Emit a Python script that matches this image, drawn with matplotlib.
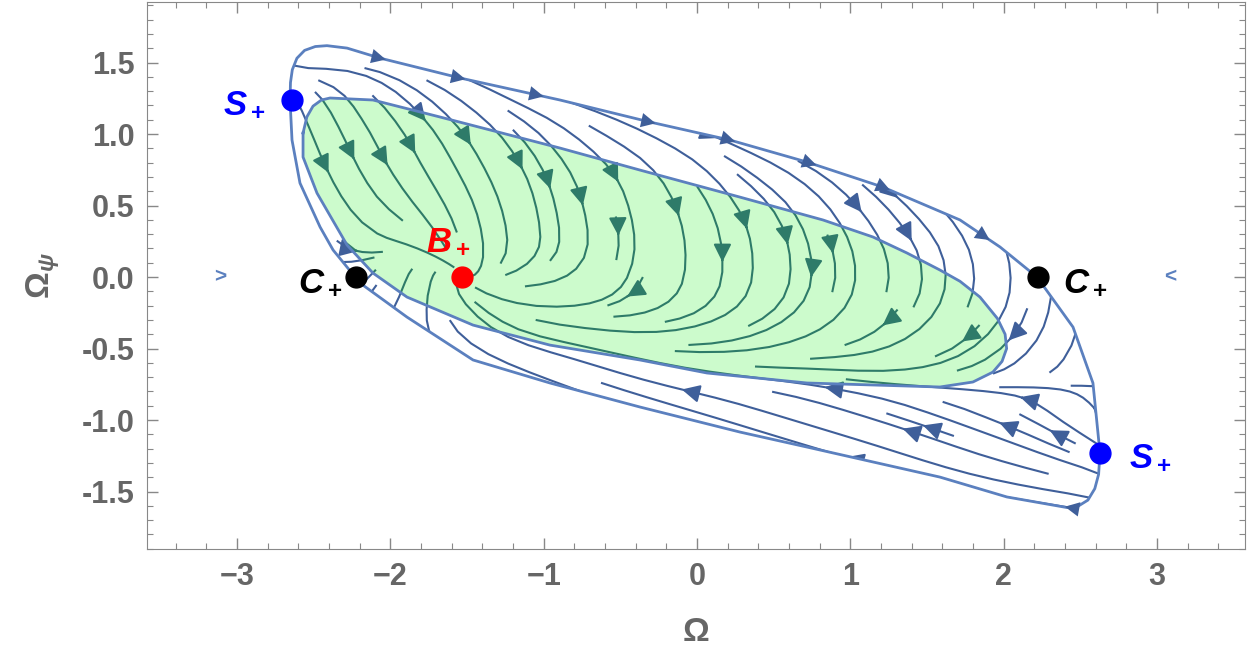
import numpy as np
import matplotlib
matplotlib.use("Agg")
import matplotlib.pyplot as plt
from matplotlib.patches import Polygon
from matplotlib.ticker import MultipleLocator, FormatStrFormatter

plt.rcParams['font.family'] = ['Liberation Sans', 'DejaVu Sans']
plt.rcParams['mathtext.fontset'] = 'custom'
plt.rcParams['mathtext.it'] = 'Liberation Sans:italic:bold'
plt.rcParams['mathtext.rm'] = 'Liberation Sans:bold'
plt.rcParams['mathtext.bf'] = 'Liberation Sans:bold'

# outer invariant curve (clockwise from the upper S+)
outer_x = [-2.655, -2.652, -2.640, -2.610, -2.560, -2.490, -2.414, -2.283, -2.068, -1.546, -0.894,
           -0.307, 0.215, 0.718, 1.213, 1.716, 1.977, 2.218, 2.453, 2.583, 2.629,
           2.620, 2.595, 2.550, 2.490, 2.414, 2.022, 1.585, 0.718, 0.280, -0.372, -0.959,
           -1.461, -1.892, -2.198, -2.374, -2.459, -2.590, -2.642]
outer_y = [1.238, 1.360, 1.450, 1.530, 1.585, 1.612, 1.618, 1.601, 1.531, 1.392, 1.238,
           1.084, 0.958, 0.804, 0.629, 0.399, 0.210, 0.000, -0.350, -0.741, -1.231,
           -1.380, -1.480, -1.560, -1.600, -1.612, -1.538, -1.399, -1.189, -1.084, -0.909, -0.741,
           -0.580, -0.280, -0.042, 0.189, 0.350, 0.657, 0.958]

# green region boundary
inner_x = [-2.570, -2.545, -2.505, -2.450, -2.394, -2.114, -1.676, -0.894, -0.372, 0.280,
           0.822, 1.148, 1.370, 1.585, 1.716, 1.846, 1.960, 2.010, 2.020, 1.990, 1.930, 1.800,
           1.585, 0.718, 0.065, -0.372, -0.959, -1.461, -1.892, -2.114, -2.283, -2.479,
           -2.570]
inner_y = [1.007, 1.120, 1.195, 1.238, 1.252, 1.238, 1.119, 0.902, 0.748, 0.559,
           0.399, 0.280, 0.168, 0.049, -0.030, -0.140, -0.290, -0.400, -0.500, -0.590, -0.665, -0.734,
           -0.769, -0.741, -0.671, -0.580, -0.476, -0.336, -0.140, 0.028, 0.224, 0.587,
           0.839]

# flow direction (degrees) read on a coarse grid: columns x=-3..3 step 0.5, rows y=1.8..-1.8 step 0.3
grid_x = [-3.0, -2.5, -2.0, -1.5, -1.0, -0.5, 0.0, 0.5, 1.0, 1.5, 2.0, 2.5, 3.0]
grid_y = [1.8, 1.5, 1.2, 0.9, 0.6, 0.3, 0.0, -0.3, -0.6, -0.9, -1.2, -1.5, -1.8]
flow_angle = [
    [-20, -20, -15, -15, -15, -15, -15, -18, -20, -25, -30, -40, -50],
    [-80, 10, -15, -15, -15, -15, -15, -18, -20, -25, -30, -45, -60],
    [-80, -65, -50, -40, -22, -18, -18, -20, -25, -30, -45, -60, -70],
    [-80, -70, -65, -62, -55, -35, -30, -22, -25, -35, -55, -75, -90],
    [-75, -65, -55, -65, -75, -70, -60, -42, -45, -40, -60, -80, -95],
    [-40, -65, -25, -80, -85, -85, -80, -75, -65, -55, -65, -90, -120],
    [0, 0, 70, None, 195, 245, 265, 265, 268, 270, 272, 270, 180],
    [20, 40, 60, 130, 170, 180, 200, 215, 225, 230, 240, 265, 180],
    [150, 150, 150, 150, 160, 163, 172, 180, 180, 195, 215, 240, 200],
    [155, 155, 155, 155, 155, 160, 163, 162, 162, 160, 155, 130, 120],
    [160, 160, 160, 160, 160, 160, 160, 162, 162, 160, 160, 155, 120],
    [165, 165, 165, 165, 165, 165, 165, 165, 165, 165, 170, 170, 140],
    [170, 170, 170, 170, 170, 170, 170, 170, 170, 170, 170, 170, 170],
]

# fixed points
pts_x = [-2.645, 2.63, -2.225, 2.225, -1.53]
pts_y = [1.235, -1.232, 0.0, 0.0, 0.0]
pts_color = ['#0000ff', '#0000ff', 'black', 'black', '#ff0000']
pts_label = ['$S_+$', '$S_+$', '$C_+$', '$C_+$', '$B_+$']
lab_x = [-2.95, 2.96, -2.46, 2.53, -1.62]
lab_y = [1.21, -1.26, -0.03, -0.03, 0.25]

# arrowheads sitting on the outer curve
top_arrow_x = [-2.05, -1.53, -1.02, -0.29, 0.23, 0.76, 1.24, 1.89]

LINE = '#5b80bf'
STREAM = '#3f5f9a'
TEAL = '#2e7b69'
GREEN = '#ccfbcc'

fig = plt.figure(figsize=(12.5, 6.61), dpi=100)
ax = fig.add_axes([0.1176, 0.1694, 0.8784, 0.8275])

ang = np.array([[np.nan if a is None else a for a in row] for row in flow_angle], dtype=float)[::-1]
mag = np.where(np.isnan(ang), 0.0, 1.0)
rad = np.deg2rad(np.nan_to_num(ang))
U = np.cos(rad) * mag
V = np.sin(rad) * mag
gx = np.array(grid_x)
gy = np.array(grid_y)[::-1]

outer_poly = Polygon(np.column_stack([outer_x, outer_y]), closed=True, transform=ax.transData)
inner_poly = Polygon(np.column_stack([inner_x, inner_y]), closed=True, transform=ax.transData)


def streams(color, clip, z):
    n0 = len(ax.patches)
    kw = dict(density=1.18, color=color, linewidth=1.5, arrowsize=2.7,
              arrowstyle='-|>', minlength=0.08, zorder=z)
    try:
        s = ax.streamplot(gx, gy, U, V, num_arrows=2, **kw)
    except TypeError:
        s = ax.streamplot(gx, gy, U, V, **kw)
    s.lines.set_clip_path(clip)
    for p in ax.patches[n0:]:
        p.set_clip_path(clip)
        p.set_zorder(z)


streams(STREAM, outer_poly, 2)
ax.fill(inner_x, inner_y, color=GREEN, zorder=3, lw=0)
streams(TEAL, inner_poly, 4)

ax.plot(outer_x + outer_x[:1], outer_y + outer_y[:1], color=LINE, lw=2.0, zorder=5,
        solid_joinstyle='round')
ax.plot(inner_x + inner_x[:1], inner_y + inner_y[:1], color=LINE, lw=2.0, zorder=5,
        solid_joinstyle='round')

# arrowheads along the top of the outer curve
tx = np.array(outer_x[5:18])
ty = np.array(outer_y[5:18])
for xa in top_arrow_x:
    ya = np.interp(xa, tx, ty)
    yb = np.interp(xa + 0.02, tx, ty)
    ax.annotate('', xy=(xa + 0.02, yb), xytext=(xa, ya),
                arrowprops=dict(arrowstyle='-|>', mutation_scale=26, color=STREAM,
                                lw=0, shrinkA=0, shrinkB=0), zorder=6)
ax.annotate('', xy=(2.40, -1.606), xytext=(2.43, -1.612),
            arrowprops=dict(arrowstyle='-|>', mutation_scale=26, color=STREAM,
                            lw=0, shrinkA=0, shrinkB=0), zorder=6)

ax.text(-3.11, 0, '>', color=LINE, fontsize=15, ha='center', va='center', fontweight='bold')
ax.text(3.09, 0, '<', color=LINE, fontsize=15, ha='center', va='center', fontweight='bold')

for x, y, c in zip(pts_x, pts_y, pts_color):
    ax.plot(x, y, 'o', color=c, ms=15, zorder=8)
for x, y, t, c in zip(lab_x, lab_y, pts_label, pts_color):
    ax.text(x, y, t, color=c, fontsize=25, ha='center', va='center', zorder=8)

ax.set_xlim(-3.588, 3.575)
ax.set_ylim(-1.902, 1.923)
ax.xaxis.set_major_locator(MultipleLocator(1))
ax.xaxis.set_minor_locator(MultipleLocator(0.2))
ax.yaxis.set_major_locator(MultipleLocator(0.5))
ax.yaxis.set_minor_locator(MultipleLocator(0.1))
ax.yaxis.set_major_formatter(FormatStrFormatter('%.1f'))
ax.tick_params(which='both', direction='in', top=True, right=True, color='#888888',
               labelcolor='#666666', labelsize=22, pad=9)
ax.tick_params(which='major', length=8, width=1)
ax.tick_params(which='minor', length=4, width=0.8)
for lab in ax.get_xticklabels() + ax.get_yticklabels():
    lab.set_fontweight('bold')
for sp in ax.spines.values():
    sp.set_color('#888888')

ax.set_xlabel('Ω', fontsize=24, color='#666666', fontweight='bold', labelpad=18)
ax.set_ylabel(r'$\Omega_\psi$', fontsize=24, color='#666666', labelpad=14)

fig.savefig('out.png', dpi=100)
